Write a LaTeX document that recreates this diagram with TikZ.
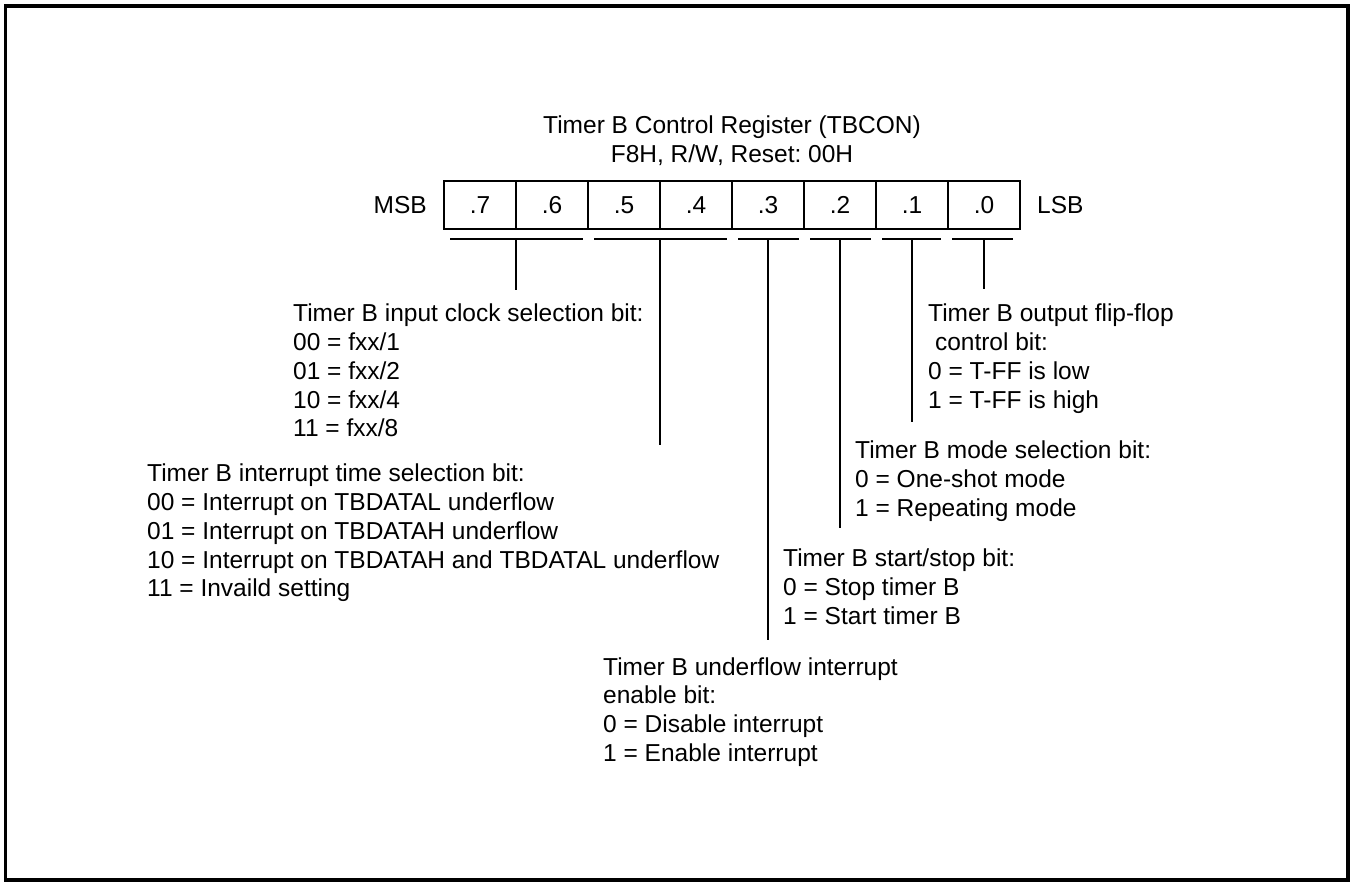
\documentclass[tikz,border=0pt]{standalone}
\usepackage{fontspec}
\setmainfont{Liberation Sans}
\frenchspacing
\newcommand{\fsz}{\fontsize{24.5}{28.8}\selectfont}
\begin{document}
\begin{tikzpicture}[x=1pt,y=-1pt,
  cell/.style={draw, line width=1.8pt, minimum width=72pt, minimum height=48pt, inner sep=0pt, font=\fsz},
  lbl/.style={inner sep=0pt, font=\fsz},
  desc/.style={anchor=north west, inner sep=0pt, align=left, font=\fsz},
  wire/.style={line width=1.6pt}]
\useasboundingbox (0,0) rectangle (1356,882);
\draw[line width=3.5pt] (5.5,6) rectangle (1348,880);

\node[lbl, align=center, anchor=north] (title) at (732,113.34) {\strut Timer B Control Register (TBCON)\\F8H, R/W, Reset: 00H};

\foreach \b [count=\i from 0] in {7,6,5,4,3,2,1,0}
  \node[cell] (c\b) at ({480+72*\i},205) {.\b};
\node[lbl, anchor=east] (msb) at (427,205) {MSB};
\node[lbl, anchor=west] (lsb) at (1037,205) {LSB};

% bracket coordinates
\coordinate (b76l) at (450,239); \coordinate (b76r) at (583,239); \coordinate (b76m) at (516,239);
\coordinate (b54l) at (594,239); \coordinate (b54r) at (727,239); \coordinate (b54m) at (660,239);
\coordinate (b3l) at (738,239);  \coordinate (b3r) at (799,239);  \coordinate (b3m) at (768,239);
\coordinate (b2l) at (810,239);  \coordinate (b2r) at (871,239);  \coordinate (b2m) at (840,239);
\coordinate (b1l) at (882,239);  \coordinate (b1r) at (941,239);  \coordinate (b1m) at (912,239);
\coordinate (b0l) at (952,239);  \coordinate (b0r) at (1013,239); \coordinate (b0m) at (984,239);

\coordinate (e76) at (516,290);
\coordinate (e54) at (660,445);
\coordinate (e3) at (768,640);
\coordinate (e2) at (840,528);
\coordinate (e1) at (912,422);
\coordinate (e0) at (984,289);

\foreach \k in {76,54,3,2,1,0} {
  \draw[wire] (b\k l) -- (b\k r);
  \draw[wire] (b\k m) -- (e\k);
}

\node[desc] (dA) at (293,301.3) {\strut Timer B input clock selection bit:\\00 = fxx/1\\01 = fxx/2\\10 = fxx/4\\11 = fxx/8};
\node[desc] (dB) at (147,461.3) {\strut Timer B interrupt time selection bit:\\00 = Interrupt on TBDATAL underflow\\01 = Interrupt on TBDATAH underflow\\10 = Interrupt on TBDATAH and TBDATAL underflow\\11 = Invaild setting};
\node[desc] (dC) at (928,301.3) {\strut Timer B output flip-flop\\\ control bit:\\0 = T-FF is low\\1 = T-FF is high};
\node[desc] (dD) at (855,438.3) {\strut Timer B mode selection bit:\\0 = One-shot mode\\1 = Repeating mode};
\node[desc] (dE) at (783,546.3) {\strut Timer B start/stop bit:\\0 = Stop timer B\\1 = Start timer B};
\node[desc] (dF) at (603,654.8) {\strut Timer B underflow interrupt\\enable bit:\\0 = Disable interrupt\\1 = Enable interrupt};
\end{tikzpicture}
\end{document}
